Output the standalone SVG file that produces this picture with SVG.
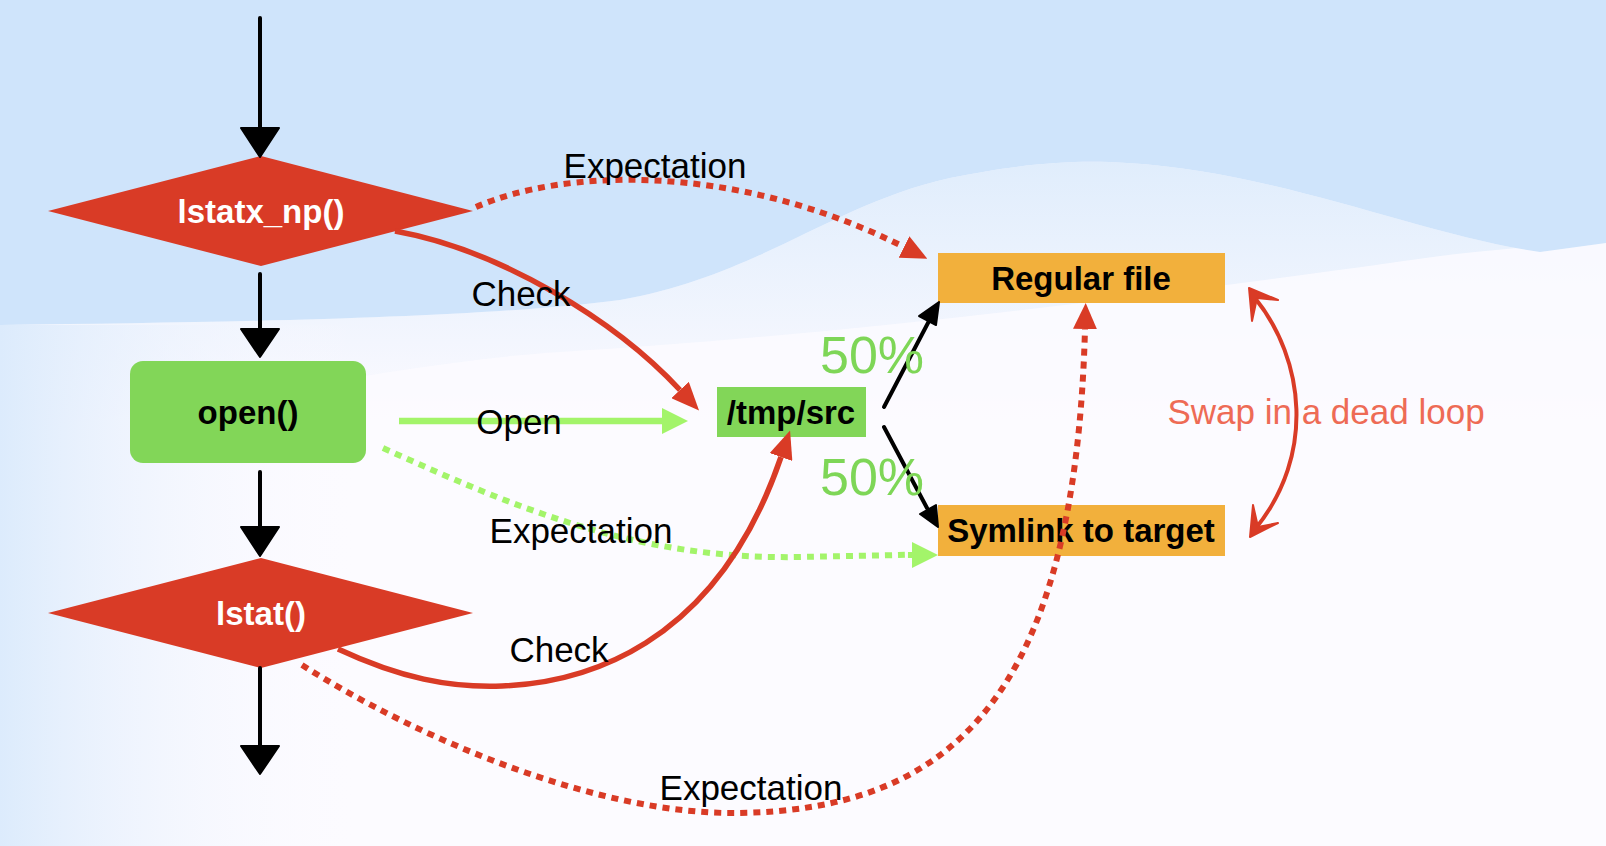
<svg xmlns="http://www.w3.org/2000/svg" width="1606" height="846" viewBox="0 0 1606 846">
<style>
.lbl{font-family:"Liberation Sans",Arial,sans-serif;font-size:35px;fill:#000;text-anchor:middle}
.nt{font-family:"Liberation Sans",Arial,sans-serif;font-size:33px;font-weight:bold;text-anchor:middle}
.pct{font-family:"Liberation Sans",Arial,sans-serif;font-size:52px;fill:#7ed657}
.swap{font-family:"Liberation Sans",Arial,sans-serif;font-size:35px;fill:#ee6b55;text-anchor:middle}
.red{fill:none;stroke:#d93b26;stroke-width:5.5}
.redDot{fill:none;stroke:#d93b26;stroke-width:6;stroke-dasharray:7 6}
.grnDot{fill:none;stroke:#a3f46a;stroke-width:6;stroke-dasharray:7 6}
.blk{fill:none;stroke:#000;stroke-width:4;stroke-linecap:round}
.blkHead{fill:#000;stroke:#000;stroke-width:2;stroke-linejoin:round}
</style>
<defs>
<linearGradient id="band" gradientUnits="userSpaceOnUse" x1="0" y1="160" x2="0" y2="420">
<stop offset="0" stop-color="#e0edfc"/>
<stop offset="0.7" stop-color="#f3f6fe"/>
<stop offset="1" stop-color="#fcfaff"/>
</linearGradient>
<linearGradient id="leftFade" x1="0" y1="0" x2="1" y2="0">
<stop offset="0" stop-color="#dcebfc"/>
<stop offset="1" stop-color="#fcfaff" stop-opacity="0"/>
</linearGradient>
<marker id="mRed" markerUnits="userSpaceOnUse" markerWidth="28" markerHeight="24" refX="0" refY="12" orient="auto">
<path d="M0,0 L28,12 L0,24 Z" fill="#d93b26"/>
</marker>
<marker id="mRedDot" markerUnits="userSpaceOnUse" markerWidth="26" markerHeight="24" refX="0" refY="12" orient="auto">
<path d="M0,0 L26,12 L0,24 Z" fill="#d93b26"/>
</marker>
<marker id="mGrn" markerUnits="userSpaceOnUse" markerWidth="26" markerHeight="26" refX="0" refY="13" orient="auto">
<path d="M0,0 L26,13 L0,26 Z" fill="#a3f46a"/>
</marker>
</defs>

<g id="background">
<rect x="0" y="0" width="1606" height="846" fill="#fcfaff"/>
<path d="M0,325 C250,322 480,318 620,300 C760,275 830,205 950,178 C1030,162 1080,160 1127,163 C1280,172 1420,235 1540,252 L1606,243 L1606,846 L0,846 Z" fill="url(#band)"/>
<path d="M0,430 C200,410 400,362 560,352 C850,335 1200,290 1440,256 C1510,248 1560,244 1606,240 L1606,846 L0,846 Z" fill="#fcfaff" opacity="0.85"/>
<rect x="0" y="325" width="360" height="521" fill="url(#leftFade)"/>
<path d="M0,0 H1606 V243 L1540,252 C1420,235 1280,172 1127,163 C1080,160 1030,162 950,178 C830,205 760,275 620,300 C480,318 250,322 0,325 Z" fill="#cfe4fb"/>
</g>

<g id="node-lstatx_np">
<polygon points="48,211 261,156 473,211 261,266" fill="#d93b26"/>
<text class="nt" x="261" y="223" fill="#fff">lstatx_np()</text>
</g>
<g id="node-open">
<rect x="130" y="361" width="236" height="102" rx="13" fill="#82d658"/>
<text class="nt" x="248" y="424" fill="#000">open()</text>
</g>
<g id="node-lstat">
<polygon points="48,613 261,558 473,613 261,668" fill="#d93b26"/>
<text class="nt" x="261" y="625" fill="#fff">lstat()</text>
</g>
<g id="node-tmpsrc">
<rect x="717" y="387" width="149" height="50" fill="#82d658"/>
<text class="nt" x="791" y="424" fill="#000">/tmp/src</text>
</g>
<g id="node-regular">
<rect x="938" y="253" width="287" height="50" fill="#f2b03c"/>
<text class="nt" x="1081" y="290" fill="#000">Regular file</text>
</g>
<g id="node-symlink">
<rect x="938" y="505" width="287" height="51" fill="#f2b03c"/>
<text class="nt" x="1081" y="542" fill="#000">Symlink to target</text>
</g>

<text class="swap" x="1326" y="424">Swap in a dead loop</text>

<g id="connectors">
<line class="blk" x1="260" y1="18" x2="260" y2="130"/>
<polygon class="blkHead" points="241,128 279,128 260,157"/>
<line class="blk" x1="260" y1="274" x2="260" y2="330"/>
<polygon class="blkHead" points="241,329 279,329 260,357"/>
<line class="blk" x1="260" y1="472" x2="260" y2="528"/>
<polygon class="blkHead" points="241,527 279,527 260,556"/>
<line class="blk" x1="260" y1="668" x2="260" y2="747"/>
<polygon class="blkHead" points="241,746 279,746 260,774"/>

<path class="redDot" d="M476,207 C560,170 730,160 904,247" marker-end="url(#mRedDot)"/>
<path class="redDot" d="M302,665 C420,740 600,815 738,813 C950,810 1075,700 1085,329" marker-end="url(#mRedDot)"/>
<path class="grnDot" d="M383,448 C520,510 640,560 800,557 S880,555 912,555" marker-end="url(#mGrn)"/>

<path class="red" d="M395,231 C500,250 615,320 680,390" marker-end="url(#mRed)"/>
<path class="red" d="M338,649 C400,678 450,688 502,686 C580,683 715,650 781,457" marker-end="url(#mRed)"/>

<line x1="399" y1="421" x2="662" y2="421" stroke="#a3f46a" stroke-width="6.5" marker-end="url(#mGrn)"/>

<line class="blk" x1="884" y1="407" x2="929" y2="321"/>
<polygon class="blkHead" points="939,302 919,316 936,325"/>
<line class="blk" x1="884" y1="427" x2="927" y2="508"/>
<polygon class="blkHead" points="938,527 920,514 936,505"/>

<path d="M1255,298 C1305,360 1315,455 1256,528" fill="none" stroke="#d93b26" stroke-width="4"/>
<path d="M1249,288 L1278,300 L1257,298 L1252,321 Z" fill="#d93b26" stroke="#d93b26" stroke-width="2" stroke-linejoin="round"/>
<path d="M1250,537 L1278,523 L1258,527 L1253,505 Z" fill="#d93b26" stroke="#d93b26" stroke-width="2" stroke-linejoin="round"/>

<text class="lbl" x="655" y="178">Expectation</text>
<text class="lbl" x="521" y="306">Check</text>
<text class="lbl" x="519" y="434">Open</text>
<text class="lbl" x="581" y="543">Expectation</text>
<text class="lbl" x="559" y="662">Check</text>
<text class="lbl" x="751" y="800">Expectation</text>
<text class="pct" x="820" y="373">50%</text>
<text class="pct" x="820" y="495">50%</text>
</g>
</svg>
